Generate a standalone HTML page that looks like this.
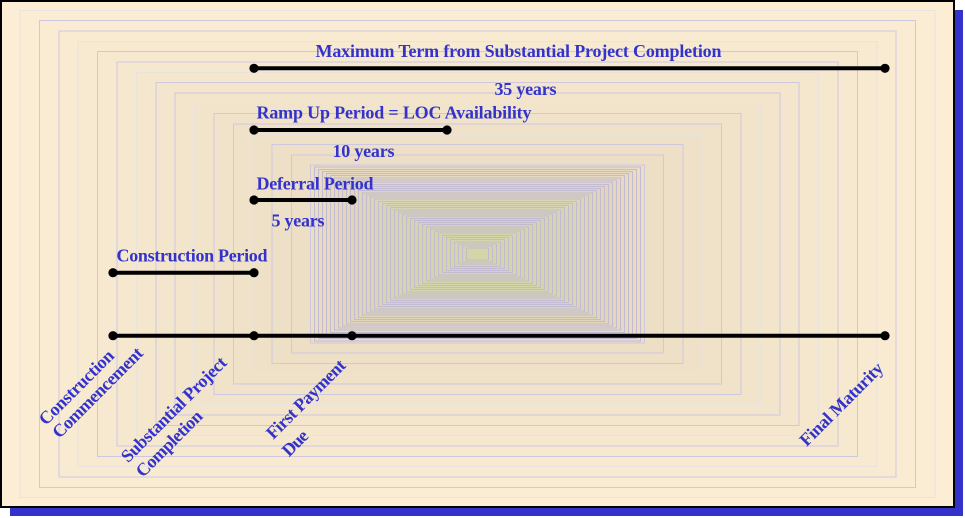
<!DOCTYPE html>
<html>
<head>
<meta charset="utf-8">
<style>
  html,body{margin:0;padding:0;background:#ffffff;}
  body{width:965px;height:518px;overflow:hidden;}
  svg{display:block;}
  .t{font-family:"Liberation Serif","Times New Roman",serif;font-weight:bold;font-size:18px;fill:#3333CC;}
</style>
</head>
<body>
<svg width="965" height="518" viewBox="0 0 965 518" xmlns="http://www.w3.org/2000/svg">
  <rect x="0" y="0" width="965" height="518" fill="#ffffff"/>
  <!-- shadow -->
  <rect x="10" y="10" width="953" height="506" fill="#3333CC"/>
  <!-- box -->
  <rect x="1" y="1" width="953" height="506" fill="rgb(251,238,213)" stroke="#000" stroke-width="2"/>

  <!-- outer bands -->
  <g fill="rgb(210,200,175)" fill-opacity="0.01" stroke="rgb(206,199,224)" stroke-width="1" shape-rendering="crispEdges">
    <rect x="20" y="10.39" width="915" height="487.22" stroke="rgb(234,226,222)"/>
    <rect x="39.4" y="20.72" width="876.2" height="466.56"/>
    <rect x="58.8" y="31.05" width="837.4" height="445.9"/>
    <rect x="78.2" y="41.38" width="798.6" height="425.24" stroke="rgb(234,226,222)"/>
    <rect x="97.6" y="51.71" width="759.8" height="404.58"/>
    <rect x="117" y="62.04" width="721" height="383.92"/>
    <rect x="136.4" y="72.37" width="682.2" height="363.26" stroke="rgb(234,226,222)"/>
    <rect x="155.8" y="82.7" width="643.4" height="342.6"/>
    <rect x="175.2" y="93.03" width="604.6" height="321.94"/>
    <rect x="194.6" y="103.36" width="565.8" height="301.28" stroke="rgb(234,226,222)"/>
    <rect x="214" y="113.69" width="527" height="280.62"/>
    <rect x="233.4" y="124.02" width="488.2" height="259.96"/>
    <rect x="252.8" y="134.35" width="449.4" height="239.3" stroke="rgb(234,226,222)"/>
    <rect x="272.2" y="144.68" width="410.6" height="218.64"/>
    <rect x="291.6" y="155.01" width="371.8" height="197.98"/>
    <rect x="310.5" y="165.08" width="334" height="177.84"/>
  </g>
  <!-- dense center bands -->
  <g fill="rgb(205,196,170)" fill-opacity="0.022" stroke="rgb(194,187,210)" stroke-width="1" shape-rendering="crispEdges">
    <rect x="314.5" y="167.21" width="326" height="173.58"/>
    <rect x="318.5" y="169.34" width="318" height="169.32"/>
    <rect x="322.5" y="171.47" width="310" height="165.06"/>
    <rect x="326.5" y="173.6" width="302" height="160.8"/>
    <rect x="330.5" y="175.73" width="294" height="156.54"/>
    <rect x="334.5" y="177.86" width="286" height="152.28"/>
    <rect x="338.5" y="179.99" width="278" height="148.02"/>
    <rect x="342.5" y="182.12" width="270" height="143.76"/>
    <rect x="346.5" y="184.25" width="262" height="139.5"/>
    <rect x="350.5" y="186.38" width="254" height="135.24"/>
    <rect x="354.5" y="188.51" width="246" height="130.98"/>
    <rect x="358.5" y="190.63" width="238" height="126.74"/>
    <rect x="362.5" y="192.76" width="230" height="122.48"/>
    <rect x="366.5" y="194.89" width="222" height="118.22"/>
    <rect x="370.5" y="197.02" width="214" height="113.96"/>
    <rect x="374.5" y="199.15" width="206" height="109.7"/>
    <rect x="378.5" y="201.28" width="198" height="105.44"/>
    <rect x="382.5" y="203.41" width="190" height="101.18"/>
    <rect x="386.5" y="205.54" width="182" height="96.92"/>
    <rect x="390.5" y="207.67" width="174" height="92.66"/>
    <rect x="394.5" y="209.8" width="166" height="88.4"/>
    <rect x="398.5" y="211.93" width="158" height="84.14"/>
    <rect x="402.5" y="214.06" width="150" height="79.88"/>
    <rect x="406.5" y="216.19" width="142" height="75.62"/>
    <rect x="410.5" y="218.32" width="134" height="71.36"/>
    <rect x="414.5" y="220.45" width="126" height="67.1"/>
    <rect x="418.5" y="222.58" width="118" height="62.84"/>
    <rect x="422.5" y="224.71" width="110" height="58.58"/>
    <rect x="426.5" y="226.84" width="102" height="54.32"/>
    <rect x="430.5" y="228.97" width="94" height="50.06"/>
    <rect x="434.5" y="231.1" width="86" height="45.8"/>
    <rect x="438.5" y="233.23" width="78" height="41.54"/>
    <rect x="442.5" y="235.36" width="70" height="37.28"/>
    <rect x="446.5" y="237.49" width="62" height="33.02"/>
    <rect x="450.5" y="239.62" width="54" height="28.76"/>
    <rect x="454.5" y="241.75" width="46" height="24.5"/>
    <rect x="458.5" y="243.88" width="38" height="20.24"/>
    <rect x="462.5" y="246.01" width="30" height="15.98"/>
    <rect x="466.5" y="248.14" width="22" height="11.72"/>
  </g>

  <!-- timeline lines -->
  <g stroke="#000" stroke-width="4" fill="none">
    <line x1="254" y1="68.3" x2="885" y2="68.3"/>
    <line x1="254" y1="130" x2="447" y2="130"/>
    <line x1="254" y1="200" x2="352" y2="200"/>
    <line x1="113" y1="272.7" x2="254" y2="272.7"/>
    <line x1="113" y1="335.7" x2="885" y2="335.7"/>
  </g>
  <g fill="#000">
    <circle cx="254" cy="68.3" r="4.6"/>
    <circle cx="885" cy="68.3" r="4.6"/>
    <circle cx="254" cy="130" r="4.6"/>
    <circle cx="447" cy="130" r="4.6"/>
    <circle cx="254" cy="200" r="4.6"/>
    <circle cx="352" cy="200" r="4.6"/>
    <circle cx="113" cy="272.7" r="4.6"/>
    <circle cx="254" cy="272.7" r="4.6"/>
    <circle cx="113" cy="335.7" r="4.6"/>
    <circle cx="254" cy="335.7" r="4.6"/>
    <circle cx="352" cy="335.7" r="4.6"/>
    <circle cx="885" cy="335.7" r="4.6"/>
  </g>

  <!-- horizontal labels -->
  <text class="t" x="315.5" y="57" textLength="406">Maximum Term from Substantial Project Completion</text>
  <text class="t" x="494.5" y="95" textLength="62">35 years</text>
  <text class="t" x="256.5" y="118.3" textLength="275">Ramp Up Period = LOC Availability</text>
  <text class="t" x="332.5" y="157" textLength="62">10 years</text>
  <text class="t" x="256.5" y="189.3" textLength="117">Deferral Period</text>
  <text class="t" x="271.5" y="226.5" textLength="53">5 years</text>
  <text class="t" x="116.5" y="261.7" textLength="151">Construction Period</text>

  <!-- rotated labels -->
  <text class="t" text-anchor="middle" y="6" textLength="98" transform="translate(76.3,387.2) rotate(-45)">Construction</text>
  <text class="t" text-anchor="middle" y="6" textLength="120" transform="translate(97.5,392.5) rotate(-45)">Commencement</text>
  <text class="t" text-anchor="middle" y="4.6" textLength="141" transform="translate(174.7,410.3) rotate(-45)">Substantial Project</text>
  <text class="t" text-anchor="middle" y="4.6" textLength="86" transform="translate(170,444.5) rotate(-45)">Completion</text>
  <text class="t" text-anchor="middle" y="4.6" textLength="104" transform="translate(306.7,400) rotate(-45)">First Payment</text>
  <text class="t" text-anchor="middle" y="6" textLength="29" transform="translate(295,443) rotate(-45)">Due</text>
  <text class="t" text-anchor="middle" y="4.6" textLength="110" transform="translate(842.2,405) rotate(-45)">Final Maturity</text>
</svg>
</body>
</html>
